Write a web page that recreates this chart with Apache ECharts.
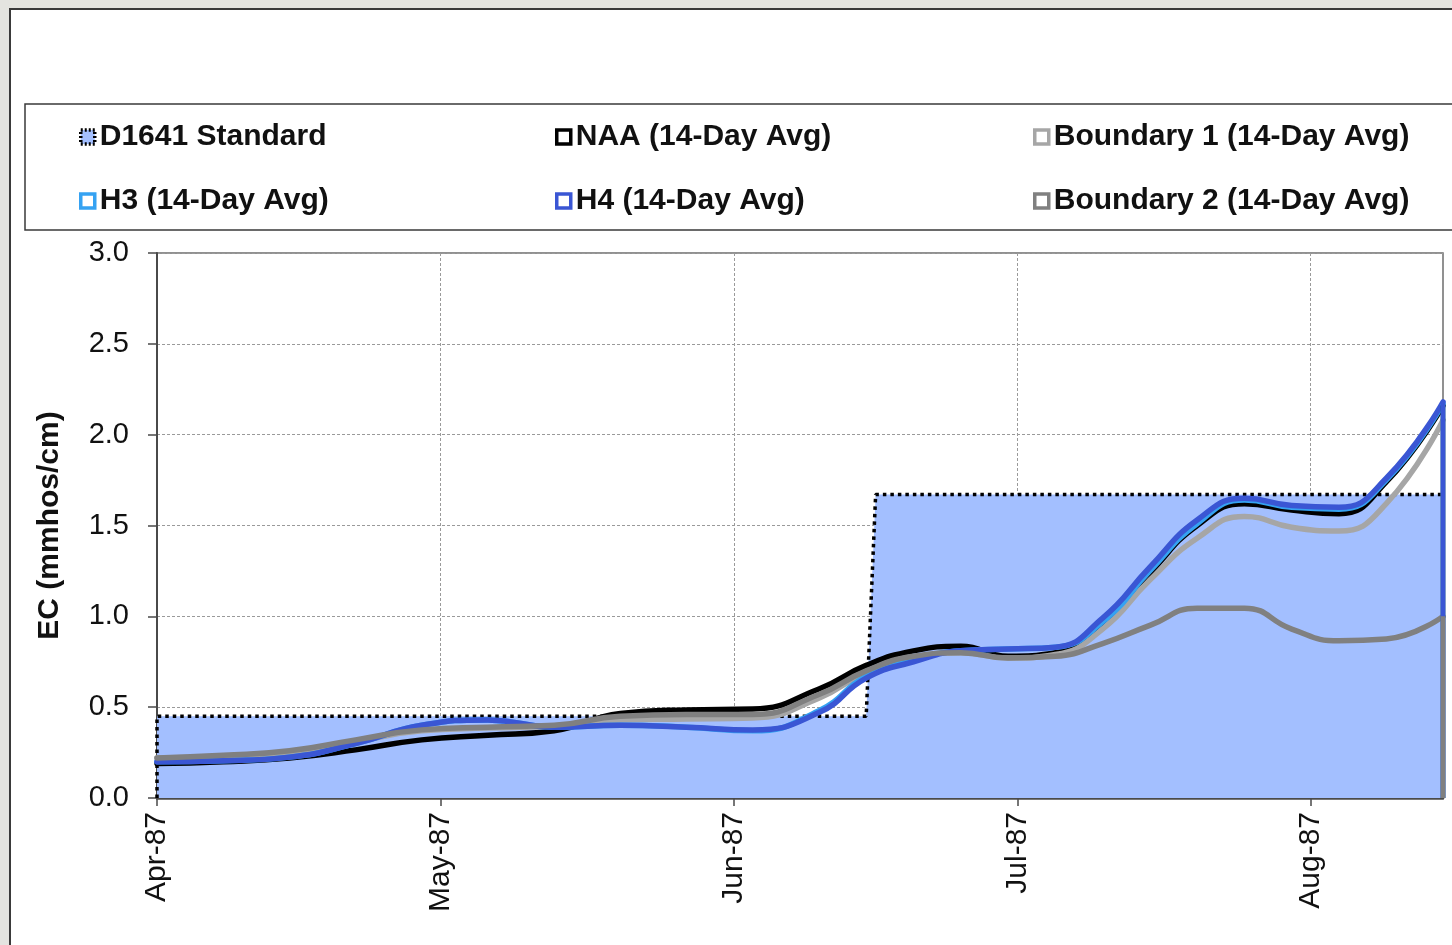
<!DOCTYPE html>
<html>
<head>
<meta charset="utf-8">
<script src="https://cdn.jsdelivr.net/npm/echarts@6/dist/echarts.min.js"></script>
<style>
  html, body { margin: 0; padding: 0; background: #e4e4e0; }
  #chart { width: 1452px; height: 945px; }
</style>
</head>
<body>
<div id="chart"></div>
<script>
// Sample dates for the 14-day running averages (1987)
const sampleDates = [
  '1987-04-01', '1987-04-08', '1987-04-15', '1987-04-22', '1987-04-29', '1987-05-06',
  '1987-05-13', '1987-05-20', '1987-05-27', '1987-06-03', '1987-06-10', '1987-06-15',
  '1987-06-20', '1987-06-25', '1987-06-30', '1987-07-05', '1987-07-10', '1987-07-15',
  '1987-07-20', '1987-07-25', '1987-07-30', '1987-08-04', '1987-08-09', '1987-08-15'
];

// EC, mmhos/cm
const naaValues = [0.19, 0.20, 0.22, 0.265, 0.32, 0.345, 0.37, 0.465, 0.485, 0.49, 0.60, 0.73,
  0.81, 0.835, 0.78, 0.80, 0.97, 1.24, 1.50, 1.62, 1.585, 1.565, 1.74, 2.16];
const boundary1Values = [0.22, 0.23, 0.25, 0.31, 0.37, 0.385, 0.395, 0.43, 0.435, 0.44, 0.55, 0.69,
  0.77, 0.80, 0.77, 0.79, 0.93, 1.20, 1.43, 1.55, 1.49, 1.47, 1.62, 2.08];
const h3Values = [0.20, 0.205, 0.225, 0.30, 0.40, 0.43, 0.39, 0.40, 0.39, 0.37, 0.48, 0.67,
  0.76, 0.81, 0.82, 0.83, 0.97, 1.25, 1.51, 1.64, 1.60, 1.59, 1.75, 2.17];
const h4Values = [0.20, 0.205, 0.225, 0.30, 0.40, 0.43, 0.39, 0.40, 0.39, 0.375, 0.47, 0.66,
  0.75, 0.81, 0.82, 0.83, 0.99, 1.27, 1.53, 1.65, 1.61, 1.60, 1.76, 2.18];
const boundary2Values = [0.22, 0.235, 0.26, 0.32, 0.375, 0.39, 0.40, 0.45, 0.46, 0.46, 0.57, 0.70,
  0.78, 0.80, 0.77, 0.78, 0.85, 0.95, 1.045, 1.045, 0.93, 0.865, 0.875, 1.00];

// D1641 standard: step from the spring to the summer objective
const standardDates = ['1987-04-01', '1987-06-15', '1987-06-16', '1987-08-15'];
const standardValues = [0.45, 0.45, 1.67, 1.67];

// Month ticks on the date axis
const monthTicks = ['1987-04-01', '1987-05-01', '1987-06-01', '1987-07-01', '1987-08-01'];
const monthLabels = ['Apr-87', 'May-87', 'Jun-87', 'Jul-87', 'Aug-87'];
const axisStart = '1987-04-01';
const axisEnd = '1987-08-15';

function ts(s) {
  const p = s.split('-').map(Number);
  return new Date(p[0], p[1] - 1, p[2]).getTime();
}
function pairs(dates, values) {
  return dates.map((d, i) => [ts(d), values[i]]);
}

const FONT = '"Liberation Sans", Arial, sans-serif';
const tickStamps = monthTicks.map(ts);
const LINE_W = 5.5;

const lineDefs = [
  { name: 'NAA (14-Day Avg)', values: naaValues, color: '#000000' },
  { name: 'Boundary 1 (14-Day Avg)', values: boundary1Values, color: '#a6a6a6' },
  { name: 'H3 (14-Day Avg)', values: h3Values, color: '#35a2f2' },
  { name: 'H4 (14-Day Avg)', values: h4Values, color: '#3a56d4' },
  { name: 'Boundary 2 (14-Day Avg)', values: boundary2Values, color: '#808080' }
];

// Standard area, closed down to zero at both ends
const stdData = pairs(standardDates, standardValues);
stdData.unshift([ts(standardDates[0]), 0]);
stdData.push([ts(standardDates[standardDates.length - 1]), 0]);

const series = [{
  name: 'D1641 Standard',
  type: 'line',
  data: stdData,
  symbol: 'none',
  lineStyle: { color: '#000', width: 3.5, type: [3.5, 4], cap: 'butt' },
  itemStyle: { color: '#a3bfff' },
  areaStyle: { color: '#a3bfff', opacity: 1 },
  silent: true
}];

lineDefs.forEach(d => {
  series.push({
    name: d.name,
    type: 'line',
    data: pairs(sampleDates, d.values),
    symbol: 'none',
    smooth: 0.5,
    lineStyle: { color: d.color, width: LINE_W, cap: 'round', join: 'round' },
    itemStyle: { color: d.color },
    silent: true
  });
});

// Each average closes at the last date by dropping to zero
lineDefs.forEach(d => {
  const lastDate = ts(sampleDates[sampleDates.length - 1]);
  series.push({
    name: d.name + ' end',
    type: 'line',
    data: [[lastDate, d.values[d.values.length - 1]], [lastDate, 0]],
    symbol: 'none',
    lineStyle: { color: d.color, width: LINE_W - 1 },
    silent: true
  });
});

function legendItem(name, color, fill, dotted) {
  return {
    name: name,
    icon: 'rect',
    itemStyle: {
      color: fill,
      borderColor: color,
      borderWidth: 3.5,
      borderType: dotted ? [2, 2] : 'solid'
    }
  };
}

const legendText = { fontFamily: FONT, fontSize: 30, fontWeight: 'bold', color: '#111', lineHeight: 32 };
const legendBase = {
  orient: 'vertical',
  top: 121,
  itemGap: 32,
  itemWidth: 14,
  itemHeight: 14,
  padding: 0,
  selectedMode: false,
  textStyle: legendText
};

const chart = echarts.init(document.getElementById('chart'), null, { renderer: 'canvas' });
chart.setOption({
  backgroundColor: '#e4e4e0',
  animation: false,
  graphic: [
    {
      type: 'rect', z: -10,
      shape: { x: 10, y: 9, width: 1460, height: 960 },
      style: { fill: '#ffffff', stroke: '#3a3a3a', lineWidth: 2 }
    },
    {
      type: 'rect', z: -9,
      shape: { x: 25, y: 104, width: 1450, height: 126 },
      style: { fill: '#ffffff', stroke: '#3a3a3a', lineWidth: 1.5 }
    }
  ],
  legend: [
    Object.assign({}, legendBase, {
      left: 79,
      data: [legendItem('D1641 Standard', '#000', '#a3bfff', true),
             legendItem('H3 (14-Day Avg)', '#35a2f2', '#fff', false)]
    }),
    Object.assign({}, legendBase, {
      left: 555,
      data: [legendItem('NAA (14-Day Avg)', '#000', '#fff', false),
             legendItem('H4 (14-Day Avg)', '#3a56d4', '#fff', false)]
    }),
    Object.assign({}, legendBase, {
      left: 1033,
      data: [legendItem('Boundary 1 (14-Day Avg)', '#a6a6a6', '#fff', false),
             legendItem('Boundary 2 (14-Day Avg)', '#808080', '#fff', false)]
    })
  ],
  grid: {
    left: 157, top: 253, right: 9, bottom: 147,
    show: true, borderColor: '#6e6e6e', borderWidth: 1.5, backgroundColor: 'transparent'
  },
  xAxis: {
    type: 'value',
    min: ts(axisStart),
    max: ts(axisEnd),
    axisLine: { show: true, onZero: false, lineStyle: { color: '#4a4a4a', width: 2.5 } },
    axisTick: {
      show: true, inside: false, length: 8,
      lineStyle: { color: '#4a4a4a', width: 1.5 },
      customValues: tickStamps
    },
    axisLabel: {
      show: true,
      rotate: 90,
      margin: 14,
      fontFamily: FONT,
      fontSize: 30,
      color: '#111',
      showMinLabel: true,
      showMaxLabel: true,
      customValues: tickStamps,
      formatter: function (v) {
        const i = tickStamps.indexOf(v);
        return i >= 0 ? monthLabels[i] : '';
      }
    },
    splitLine: { show: true, lineStyle: { color: '#9a9a9a', width: 1, type: [3, 2] } }
  },
  yAxis: {
    type: 'value',
    min: 0,
    max: 3,
    interval: 0.5,
    name: 'EC (mmhos/cm)',
    nameLocation: 'middle',
    nameRotate: 90,
    nameGap: 92,
    nameTextStyle: { fontFamily: FONT, fontSize: 30, fontWeight: 'bold', color: '#111' },
    axisLine: { show: true, lineStyle: { color: '#4a4a4a', width: 2 } },
    axisTick: { show: true, inside: false, length: 9, lineStyle: { color: '#4a4a4a', width: 1.5 } },
    axisLabel: {
      margin: 28,
      fontFamily: FONT,
      fontSize: 29,
      color: '#111',
      formatter: v => v.toFixed(1)
    },
    splitLine: { show: true, lineStyle: { color: '#9a9a9a', width: 1, type: [3, 2] } }
  },
  series: series
});
</script>
</body>
</html>
